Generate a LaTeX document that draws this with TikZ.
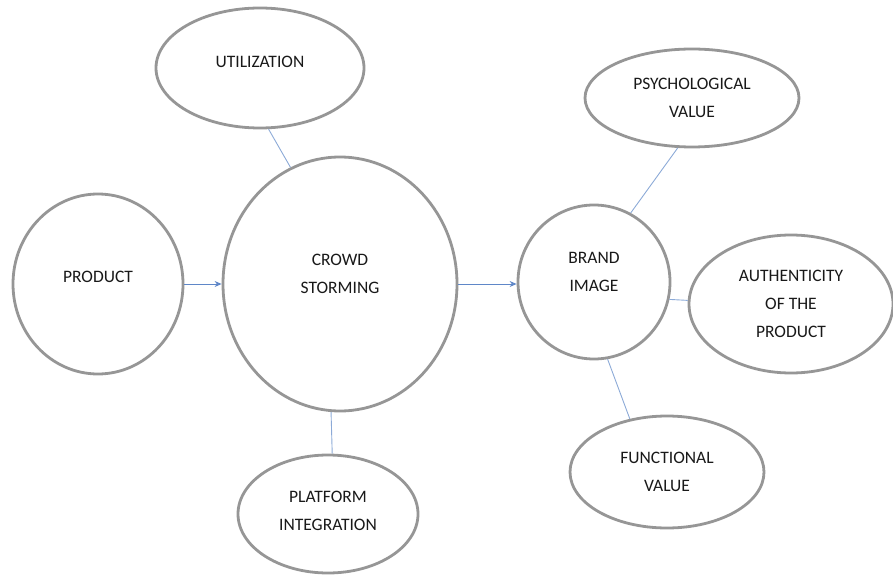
\documentclass[tikz,border=0pt]{standalone}
\usepackage{fontspec}
\setmainfont{Carlito}
\usetikzlibrary{
  arrows.meta,
  shapes.geometric
}
\definecolor{rimgray}{RGB}{150,150,150}
\definecolor{linkblue}{RGB}{140,170,215}
\definecolor{flowblue}{RGB}{95,135,200}
\definecolor{inkgray}{RGB}{25,25,25}
% invisible depth under the last line, lifts the text inside its bubble
\newcommand{\lift}[1]{\rule[-#1]{0pt}{0pt}}
\tikzset{
  bubble/.style={
    ellipse, draw=rimgray, line width=2.8pt, fill=white,
    inner sep=0pt, align=center, text=inkgray,
    font=\fontsize{17.5}{28}\selectfont
  },
  link/.style={draw=linkblue, line width=0.9pt},
  flow/.style={draw=flowblue, line width=0.9pt, -{Stealth[length=7pt, width=6pt]}},
}

\begin{document}
\begin{tikzpicture}[x=1pt, y=-1pt]
\useasboundingbox (0,0) rectangle (893,577);

% left side: inputs around the central bubble
\node[bubble, minimum width=170pt, minimum height=180pt] (product) at (98,284) {PRODUCT\lift{14pt}};
\node[bubble, minimum width=234pt, minimum height=254pt] (crowd) at (340,284) {CROWD\\STORMING\lift{20pt}};
\node[bubble, minimum width=208pt, minimum height=120pt] (util) at (260,68) {UTILIZATION\lift{12pt}};
\node[bubble, minimum width=180pt, minimum height=118pt] (platform) at (328,514) {PLATFORM\\INTEGRATION\lift{6pt}};

% right side: brand image and its values
\node[bubble, minimum width=152pt, minimum height=154pt] (brand) at (594,282) {BRAND\\IMAGE\lift{20pt}};
\node[bubble, minimum width=214pt, minimum height=98pt] (psych) at (692,98) {PSYCHOLOGICAL\\VALUE};
\node[bubble, minimum width=204pt, minimum height=138pt] (auth) at (791,304) {AUTHENTICITY\\OF THE\\PRODUCT};
\node[bubble, minimum width=194pt, minimum height=112pt] (func) at (667,472) {FUNCTIONAL\\VALUE};

% connectors
\draw[flow] (product.east) -- (crowd.west);
\draw[flow] (crowd.east) -- (crowd.east -| brand.west);
\draw[link] (util.-82) -- (crowd.113);
\draw[link] (crowd.-94) -- (platform.86);
\draw[link] (psych.-106) -- (brand.62);
\draw[link] (brand.-13) -- (auth.178);
\draw[link] (brand.-80) -- (func.125);

\end{tikzpicture}
\end{document}
